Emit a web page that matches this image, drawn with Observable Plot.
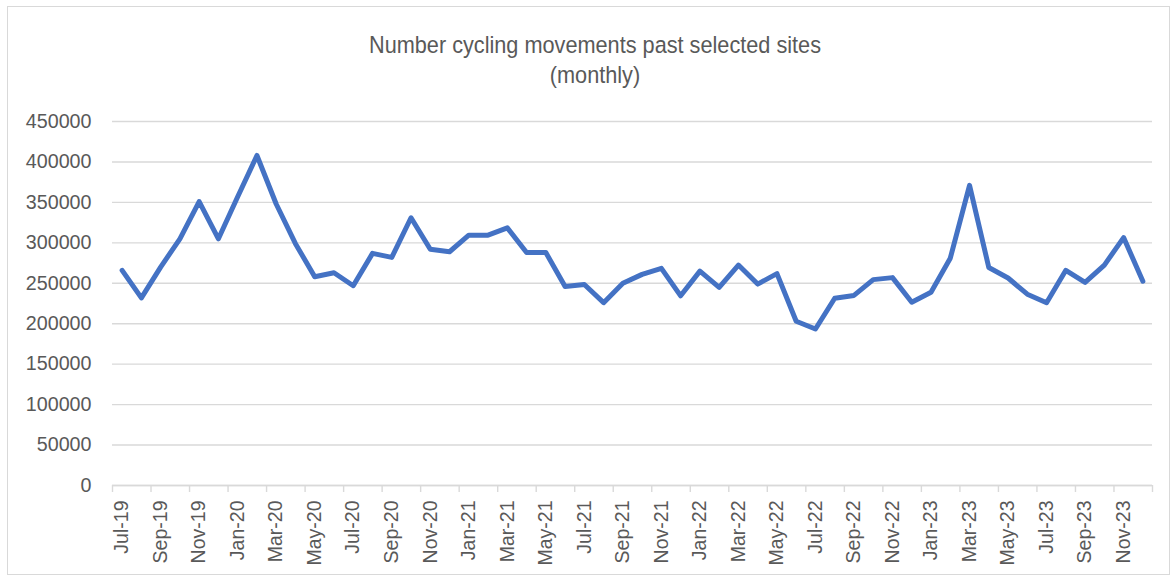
<!DOCTYPE html>
<html>
<head>
<meta charset="utf-8">
<script src="https://cdn.jsdelivr.net/npm/d3@7"></script>
<script src="https://cdn.jsdelivr.net/npm/@observablehq/plot@0.6"></script>
<style>
  html, body { margin: 0; padding: 0; background: #fff; }
  #wrap { position: relative; width: 1174px; height: 579px; overflow: hidden; background: #fff; }
  #frame { position: absolute; left: 7px; top: 6px; width: 1163px; height: 569px; border: 1.3px solid #d9d9d9; box-sizing: border-box; }
  .title { position: absolute; left: 0; width: 1190px; text-align: center; color: #595959;
           font-family: "Liberation Sans", Arial, sans-serif; font-size: 21.7px; line-height: 30px;
           transform: scaleY(1.12); transform-origin: 50% 50%; }
  #chart { position: absolute; left: 0; top: 0; }
</style>
</head>
<body>
<div id="wrap">
  <div id="frame"></div>
  <div class="title" style="top:30px">Number cycling movements past selected sites</div>
  <div class="title" style="top:60px">(monthly)</div>
  <div id="chart"></div>
</div>
<script>
const months = ["Jul-19","Aug-19","Sep-19","Oct-19","Nov-19","Dec-19",
  "Jan-20","Feb-20","Mar-20","Apr-20","May-20","Jun-20","Jul-20","Aug-20","Sep-20","Oct-20","Nov-20","Dec-20",
  "Jan-21","Feb-21","Mar-21","Apr-21","May-21","Jun-21","Jul-21","Aug-21","Sep-21","Oct-21","Nov-21","Dec-21",
  "Jan-22","Feb-22","Mar-22","Apr-22","May-22","Jun-22","Jul-22","Aug-22","Sep-22","Oct-22","Nov-22","Dec-22",
  "Jan-23","Feb-23","Mar-23","Apr-23","May-23","Jun-23","Jul-23","Aug-23","Sep-23","Oct-23","Nov-23","Dec-23"];
const movements = [266000,232000,270000,305000,351000,305000,
  357000,408000,348000,299000,258000,263000,247000,287000,282000,331000,292000,289000,
  309500,309500,318500,288000,288000,246000,248500,226000,250000,261000,268500,234500,
  265000,245000,272500,249000,262000,203000,193500,231500,235000,254500,257000,226500,
  239000,281000,371000,269500,256500,236500,226000,266000,251000,272500,306500,252500];
const yTicks = [0,50000,100000,150000,200000,250000,300000,350000,400000,450000];

const data = months.map((m, i) => ({i, month: m, value: movements[i]}));
const labelled = data.filter(d => d.i % 2 === 0);
const boundaries = d3.range(0, months.length + 1, 2).map(i => i - 0.5);

const font = '"Liberation Sans", Arial, sans-serif';
const chart = Plot.plot({
  width: 1174,
  height: 579,
  marginLeft: 112,
  marginRight: 22,
  marginTop: 121,
  marginBottom: 94,
  style: {fontFamily: font, fontSize: "19.7px", color: "#595959", background: "transparent", overflow: "visible"},
  x: {type: "linear", domain: [-0.5, months.length - 0.5]},
  y: {domain: [0, 450000]},
  marks: [
    Plot.gridY(yTicks, {stroke: "#d9d9d9", strokeOpacity: 1, strokeWidth: 1.4}),
    Plot.axisY(yTicks, {tickSize: 0, tickPadding: 21, tickFormat: d => String(d), fill: "#595959", label: null}),
    Plot.ruleY([0], {stroke: "#d9d9d9", strokeWidth: 1.4}),
    Plot.axisX(boundaries, {tickSize: 7, tickFormat: () => "", stroke: "#d9d9d9", strokeWidth: 1.4, label: null}),
    Plot.text(labelled, {x: "i", y: () => 0, text: "month", rotate: -90, textAnchor: "end", lineAnchor: "middle", dy: 15, fill: "#595959", fontSize: 19.5}),
    Plot.line(data, {x: "i", y: "value", stroke: "#4472C4", strokeWidth: 5, strokeLinejoin: "round", strokeLinecap: "round"})
  ]
});
document.getElementById("chart").appendChild(chart);
</script>
</body>
</html>
